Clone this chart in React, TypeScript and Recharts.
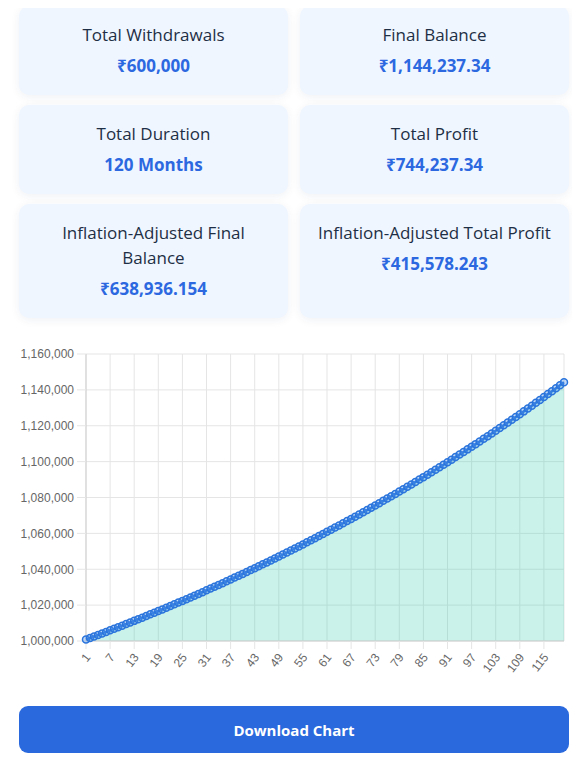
import * as React from 'react';
import { AreaChart, Area, XAxis, YAxis, CartesianGrid } from 'recharts';

const summaryTitles = [
  'Total Withdrawals',
  'Final Balance',
  'Total Duration',
  'Total Profit',
  'Inflation-Adjusted Final\nBalance',
  'Inflation-Adjusted Total Profit',
];
const summaryValues = [
  '₹600,000',
  '₹1,144,237.34',
  '120 Months',
  '₹744,237.34',
  '₹638,936.154',
  '₹415,578.243',
];

const months = Array.from({ length: 120 }, (_, i) => String(i + 1));

const balances = [
  1000833, 1001672, 1002515, 1003363, 1004216, 1005073, 1005936, 1006804, 1007677, 1008556,
  1009439, 1010327, 1011221, 1012119, 1013024, 1013933, 1014847, 1015767, 1016693, 1017623,
  1018560, 1019501, 1020448, 1021401, 1022359, 1023323, 1024292, 1025267, 1026248, 1027234,
  1028227, 1029225, 1030228, 1031238, 1032254, 1033275, 1034303, 1035336, 1036375, 1037421,
  1038473, 1039530, 1040594, 1041664, 1042741, 1043823, 1044912, 1046008, 1047109, 1048218,
  1049332, 1050453, 1051581, 1052715, 1053856, 1055003, 1056158, 1057319, 1058486, 1059661,
  1060842, 1062030, 1063226, 1064428, 1065637, 1066853, 1068076, 1069307, 1070544, 1071789,
  1073041, 1074301, 1075567, 1076842, 1078123, 1079412, 1080709, 1082013, 1083325, 1084644,
  1085971, 1087306, 1088649, 1089999, 1091357, 1092724, 1094098, 1095480, 1096870, 1098269,
  1099675, 1101090, 1102513, 1103944, 1105384, 1106832, 1108289, 1109754, 1111227, 1112709,
  1114200, 1115700, 1117208, 1118725, 1120251, 1121786, 1123329, 1124882, 1126444, 1128015,
  1129595, 1131184, 1132783, 1134391, 1136008, 1137635, 1139271, 1140917, 1142572, 1144237,
];

const yTicks = [1000000, 1020000, 1040000, 1060000, 1080000, 1100000, 1120000, 1140000, 1160000];

const data = months.map((m, i) => ({ month: m, balance: balances[i] }));

const sans = '"Open Sans", "Noto Sans", sans-serif';
const axisFont = '"Liberation Sans", Arial, sans-serif';

const cardTops = [6, 105, 204];
const cardHeights = [89, 89, 114];

function XTick(props: any) {
  const { x, y, payload } = props;
  return (
    <g transform={`translate(${x + 2},${y + 4})`}>
      <text
        x={0}
        y={0}
        dy={4}
        textAnchor="end"
        transform="rotate(-52)"
        fill="#666"
        fontSize={12}
        fontFamily={axisFont}
      >
        {payload.value}
      </text>
    </g>
  );
}

export default function App() {
  return (
    <div style={{ position: 'relative', width: 580, height: 760 }}>
      {summaryTitles.map((title, i) => {
        const row = Math.floor(i / 2);
        const col = i % 2;
        return (
          <div
            key={title}
            style={{
              position: 'absolute',
              left: 19 + col * 281 - 8,
              top: cardTops[row] - 8,
              width: 269,
              height: cardHeights[row],
              boxSizing: 'border-box',
              background: '#eff6ff',
              borderRadius: 10,
              boxShadow: '0 2px 10px rgba(30,60,120,0.07)',
              paddingTop: 16,
              textAlign: 'center',
              fontFamily: sans,
            }}
          >
            <div style={{ fontSize: 17, lineHeight: '25px', color: '#1e2f45', whiteSpace: 'pre-line' }}>
              {title}
            </div>
            <div
              style={{
                fontSize: 17,
                lineHeight: '25px',
                marginTop: 6,
                fontWeight: 700,
                color: '#2c68df',
              }}
            >
              {summaryValues[i]}
            </div>
          </div>
        );
      })}

      <div style={{ position: 'absolute', left: -8, top: 332 }}>
        <AreaChart
          width={580}
          height={350}
          data={data}
          margin={{ top: 14, right: 16, bottom: 0, left: 0 }}
        >
          <CartesianGrid stroke="#e5e5e5" strokeWidth={1} />
          <XAxis
            dataKey="month"
            interval={5}
            tick={<XTick />}
            tickSize={8}
            tickLine={{ stroke: '#e5e5e5' }}
            axisLine={{ stroke: '#cfcfcf' }}
            height={49}
          />
          <YAxis
            domain={[1000000, 1160000]}
            ticks={yTicks}
            width={86}
            tickSize={9}
            tickMargin={3}
            tickLine={{ stroke: '#e5e5e5' }}
            axisLine={{ stroke: '#cfcfcf' }}
            tick={{ fill: '#666', fontSize: 12, fontFamily: axisFont }}
            tickFormatter={(v: number) => v.toLocaleString('en-US')}
          />
          <Area
            type="linear"
            dataKey="balance"
            stroke="#2170db"
            strokeWidth={2.5}
            fill="rgba(46,204,170,0.25)"
            fillOpacity={1}
            dot={{ r: 3.5, stroke: '#2a74dc', strokeWidth: 1.5, fill: 'rgba(80,150,235,0.35)' }}
            isAnimationActive={false}
          />
        </AreaChart>
      </div>

      <div
        style={{
          position: 'absolute',
          left: 11,
          top: 698,
          width: 550,
          height: 47,
          background: '#2968dd',
          borderRadius: 9,
          color: '#fff',
          fontFamily: sans,
          fontWeight: 700,
          fontSize: 15,
          display: 'flex',
          alignItems: 'center',
          justifyContent: 'center',
        }}
      >
        Download Chart
      </div>
    </div>
  );
}
